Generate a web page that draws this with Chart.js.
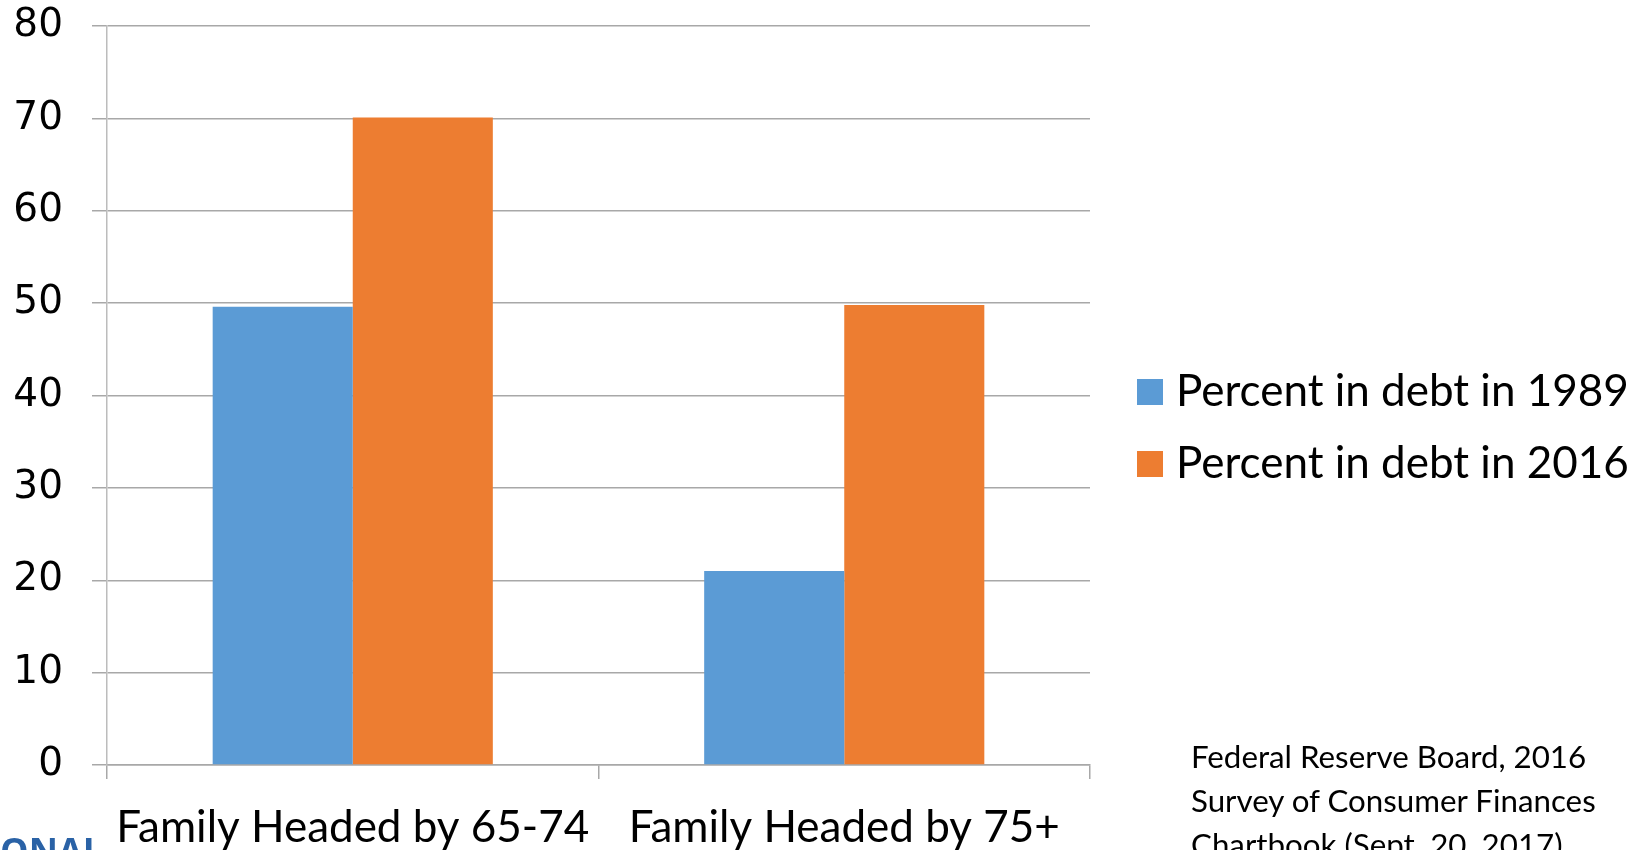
<!DOCTYPE html>
<html>
<head>
<meta charset="utf-8">
<script src="https://cdn.jsdelivr.net/npm/chart.js@4.4.0/dist/chart.umd.min.js"></script>
<style>
  body { margin: 0; background: #fff; }
  #wrap { position: relative; width: 1649px; height: 850px; overflow: hidden; }
  #chart { position: absolute; left: 0; top: 0; }
  .legend { position: absolute; left: 1137px; font-family: Lato, "Open Sans", sans-serif; font-size: 44px; color: #000; white-space: nowrap; }
  .legend span.box { display: inline-block; width: 26px; height: 26px; margin-right: 13px; vertical-align: middle; position: relative; top: -3px; }
  .source { position: absolute; left: 1191px; top: 734px; font-family: Lato, "Open Sans", sans-serif; font-size: 31.3px; line-height: 44px; color: #000; white-space: nowrap; }
  .org { position: absolute; left: 0; top: 826px; font-family: "Open Sans", sans-serif; font-weight: bold; font-size: 36px; color: #2a62a6; white-space: nowrap; }
</style>
</head>
<body>
<div id="wrap">
  <canvas id="chart" width="1649" height="850"></canvas>
  <div class="legend" id="leg1" style="top:363px"></div>
  <div class="legend" id="leg2" style="top:435px"></div>
  <div class="source">Federal Reserve Board, 2016<br>Survey of Consumer Finances<br>Chartbook (Sept. 20, 2017)</div>
  <div class="org">ONAL</div>
</div>
<script>
// data
var categories = ['Family Headed by 65-74', 'Family Headed by 75+'];
var debt1989 = [49.6, 21.0];
var debt2016 = [70.1, 49.8];
var seriesNames = ['Percent in debt in 1989', 'Percent in debt in 2016'];
var seriesColors = ['#5b9bd5', '#ed7d31'];
var yMin = 0, yMax = 80, yStep = 10;

// legend as html
[ 'leg1', 'leg2' ].forEach(function(id, i) {
	document.getElementById(id).innerHTML =
		'<span class="box" style="background:' + seriesColors[i] + '"></span>' + seriesNames[i];
});

var gridColor = '#a8a8a8';
var ctx = document.getElementById('chart');
new Chart(ctx, {
	type: 'bar',
	data: {
		labels: categories,
		datasets: [
			{ label: seriesNames[0], data: debt1989, backgroundColor: seriesColors[0] },
			{ label: seriesNames[1], data: debt2016, backgroundColor: seriesColors[1] }
		]
	},
	options: {
		responsive: false,
		animation: false,
		layout: { padding: { top: 26, right: 559, left: 0, bottom: 0 } },
		datasets: { bar: { categoryPercentage: 0.57, barPercentage: 1.0 } },
		plugins: {
			legend: { display: false },
			title: { display: false },
			tooltip: { enabled: false }
		},
		scales: {
			x: {
				grid: { display: true, drawOnChartArea: false, drawTicks: true, tickLength: 14, color: gridColor, lineWidth: 1.5, offset: true },
				border: { display: true, color: gridColor, width: 1.5 },
				ticks: { color: '#000', padding: 22, font: { family: 'Lato', size: 44 } },
				afterFit: function(scale) { scale.height = 85; scale.paddingLeft = 0; scale.paddingRight = 0; }
			},
			y: {
				min: yMin,
				max: yMax,
				grid: { color: gridColor, lineWidth: 1.5, drawTicks: true, tickLength: 15 },
				border: { display: true, color: '#bcbcbc', width: 1.5 },
				ticks: { stepSize: yStep, color: '#000', padding: 29, font: { family: 'DejaVu Sans', size: 39 } },
				afterFit: function(scale) { scale.width = 107; scale.paddingTop = 0; scale.paddingBottom = 0; }
			}
		}
	}
});
</script>
</body>
</html>
